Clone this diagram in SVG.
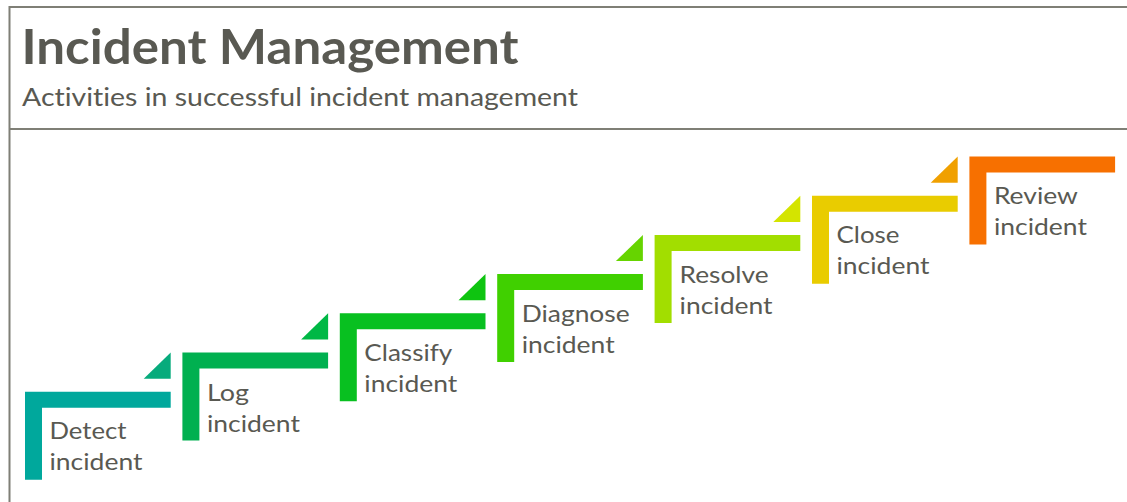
<svg xmlns="http://www.w3.org/2000/svg" width="1127" height="502" viewBox="0 0 1127 502">
<style>
.frame{stroke:#7f7f76;stroke-width:2;fill:none}
text{font-family:Lato,"Open Sans","Liberation Sans",sans-serif;fill:#595952;font-variant-ligatures:none;font-feature-settings:"liga" 0,"dlig" 0}
.title{font-weight:bold;font-size:48px}
.sub{font-size:25px}
.lbl{font-size:23px}
</style>
<rect width="1127" height="502" fill="#ffffff"/>
<g id="header">
<path class="frame" d="M1127,7 H9.5 V502 M9.5,129 H1127"/>
<text class="title" x="21.5" y="63.5" textLength="497" lengthAdjust="spacingAndGlyphs">Incident Management</text>
<text class="sub" x="22" y="106" textLength="556" lengthAdjust="spacingAndGlyphs">Activities in successful incident management</text>
</g>
<g id="connectors">
<polygon points="170.7,352.5 170.7,378.7 143.7,378.7" fill="#07ab7c"/>
<polygon points="328.1,313.3 328.1,339.5 301.1,339.5" fill="#00b845"/>
<polygon points="485.5,274.1 485.5,300.3 458.5,300.3" fill="#0ec410"/>
<polygon points="642.9,234.9 642.9,261.1 615.9,261.1" fill="#66d400"/>
<polygon points="800.3,195.7 800.3,221.9 773.3,221.9" fill="#d4e400"/>
<polygon points="957.7,156.5 957.7,182.7 930.7,182.7" fill="#f0a000"/>
</g>
<g id="step1">
<path d="M25,391.7 h145.7 v16 h-128.7 v72 h-17 z" fill="#00a89c"/>
<text class="lbl" x="49.5" y="439.2" textLength="77" lengthAdjust="spacingAndGlyphs">Detect</text>
<text class="lbl" x="49.5" y="470.2" textLength="93" lengthAdjust="spacingAndGlyphs">incident</text>
</g>
<g id="step2">
<path d="M182.4,352.5 h145.7 v16 h-128.7 v72 h-17 z" fill="#00b050"/>
<text class="lbl" x="206.9" y="400.5" textLength="42" lengthAdjust="spacingAndGlyphs">Log</text>
<text class="lbl" x="206.9" y="431.5" textLength="93" lengthAdjust="spacingAndGlyphs">incident</text>
</g>
<g id="step3">
<path d="M339.8,313.3 h145.7 v16 h-128.7 v72 h-17 z" fill="#08c020"/>
<text class="lbl" x="364.3" y="361" textLength="88" lengthAdjust="spacingAndGlyphs">Classify</text>
<text class="lbl" x="364.3" y="392" textLength="93" lengthAdjust="spacingAndGlyphs">incident</text>
</g>
<g id="step4">
<path d="M497.2,274.1 h145.7 v16 h-128.7 v72 h-17 z" fill="#40d000"/>
<text class="lbl" x="521.7" y="321.8" textLength="108" lengthAdjust="spacingAndGlyphs">Diagnose</text>
<text class="lbl" x="521.7" y="352.8" textLength="93" lengthAdjust="spacingAndGlyphs">incident</text>
</g>
<g id="step5">
<path d="M654.6,234.9 h145.7 v16 h-128.7 v72 h-17 z" fill="#a2de00"/>
<text class="lbl" x="679.6" y="283.3" textLength="89" lengthAdjust="spacingAndGlyphs">Resolve</text>
<text class="lbl" x="679.6" y="314.3" textLength="93" lengthAdjust="spacingAndGlyphs">incident</text>
</g>
<g id="step6">
<path d="M812,195.7 h145.7 v16 h-128.7 v72 h-17 z" fill="#e9cc00"/>
<text class="lbl" x="836.5" y="243" textLength="63" lengthAdjust="spacingAndGlyphs">Close</text>
<text class="lbl" x="836.5" y="274" textLength="93" lengthAdjust="spacingAndGlyphs">incident</text>
</g>
<g id="step7">
<path d="M969.4,156.5 h145.7 v16 h-128.7 v72 h-17 z" fill="#f77000"/>
<text class="lbl" x="993.9" y="204" textLength="84" lengthAdjust="spacingAndGlyphs">Review</text>
<text class="lbl" x="993.9" y="235" textLength="93" lengthAdjust="spacingAndGlyphs">incident</text>
</g>
</svg>
